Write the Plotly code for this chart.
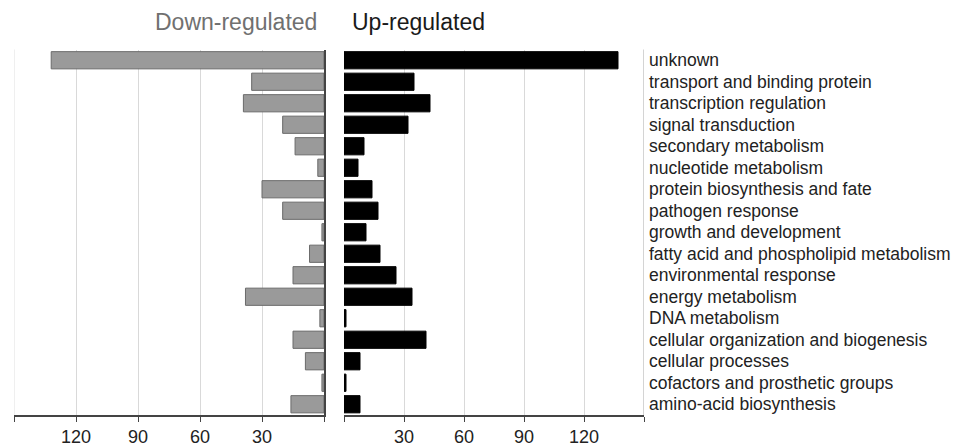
import plotly.graph_objects as go

categories = [
    "unknown", "transport and binding protein", "transcription regulation",
    "signal transduction", "secondary metabolism", "nucleotide metabolism",
    "protein biosynthesis and fate", "pathogen response", "growth and development",
    "fatty acid and phospholipid metabolism", "environmental response",
    "energy metabolism", "DNA metabolism", "cellular organization and biogenesis",
    "cellular processes", "cofactors and prosthetic groups", "amino-acid biosynthesis",
]
down_regulated = [132, 35, 39, 20, 14, 3, 30, 20, 1, 7, 15, 38, 2, 15, 9, 1, 16]
up_regulated = [137, 35, 43, 32, 10, 7, 14, 17, 11, 18, 26, 34, 1, 41, 8, 1, 8]
tick_vals = [0, 30, 60, 90, 120, 150]
tick_text = ["", "30", "60", "90", "120", ""]
axis_max = 150

FONT = "Liberation Sans, Arial, sans-serif"
W, H = 956, 448

fig = go.Figure()
fig.add_trace(go.Bar(
    y=categories, x=down_regulated, orientation="h", width=0.8,
    marker=dict(color="#9a9a9a", line=dict(color="#6a6a6a", width=1)),
    xaxis="x", yaxis="y", showlegend=False,
))
fig.add_trace(go.Bar(
    y=categories, x=up_regulated, orientation="h", width=0.8,
    marker=dict(color="#000000", line=dict(color="#000000", width=1)),
    xaxis="x2", yaxis="y2", showlegend=False,
))

ydom = [(H - 415) / H, (H - 49.5) / H]
common_x = dict(
    tickvals=tick_vals, ticktext=tick_text,
    showgrid=True, gridcolor="#d9d9d9", gridwidth=1,
    showline=True, linecolor="#444444", linewidth=1.5,
    ticks="outside", ticklen=5, tickcolor="#444444",
    tickfont=dict(family=FONT, size=18, color="#222222"),
    zeroline=False, fixedrange=True,
)
xa = dict(common_x); xa.update(range=[axis_max, 0], domain=[14 / W, 324 / W], anchor="y")
xa2 = dict(common_x); xa2.update(range=[0, axis_max], domain=[344 / W, 644 / W], anchor="y2")

# outer gridlines at the far ends of both panels
fig.add_shape(type="line", xref="x", yref="y domain", x0=axis_max, x1=axis_max, y0=0, y1=1,
              line=dict(color="#e0e0e0", width=1))
fig.add_shape(type="line", xref="x2", yref="y2 domain", x0=axis_max, x1=axis_max, y0=0, y1=1,
              line=dict(color="#a8a8a8", width=1))

fig.update_layout(
    width=W, height=H,
    margin=dict(l=0, r=0, t=0, b=0),
    paper_bgcolor="white", plot_bgcolor="white",
    bargap=0.2,
    xaxis=xa, xaxis2=xa2,
    yaxis=dict(domain=ydom, anchor="x", side="right", type="category",
               categoryorder="array", categoryarray=categories,
               range=[16.5, -0.5], showticklabels=False, showgrid=False,
               showline=True, linecolor="#444444", linewidth=1.5, ticks=""),
    yaxis2=dict(domain=ydom, anchor="x2", side="right", type="category",
                categoryorder="array", categoryarray=categories,
                range=[16.5, -0.5], showticklabels=True, showgrid=False,
                showline=False, ticks="", ticklabelstandoff=4,
                tickfont=dict(family=FONT, size=17.5, color="#222222")),
    annotations=[
        dict(text="Down-regulated", x=319 / W, y=(H - 22) / H, xref="paper", yref="paper",
             xanchor="right", yanchor="middle", showarrow=False,
             font=dict(family=FONT, size=23, color="#707070")),
        dict(text="Up-regulated", x=350 / W, y=(H - 22) / H, xref="paper", yref="paper",
             xanchor="left", yanchor="middle", showarrow=False,
             font=dict(family=FONT, size=23, color="#1a1a1a")),
    ],
)

fig.write_html("out.html", config={"displayModeBar": False})

# remove the default page margin so the figure sits at the window's top-left corner
with open("out.html", "r", encoding="utf-8") as f:
    html = f.read()
html = html.replace("<head>", "<head><style>html,body{margin:0;padding:0;overflow:hidden;}</style>", 1)
with open("out.html", "w", encoding="utf-8") as f:
    f.write(html)
